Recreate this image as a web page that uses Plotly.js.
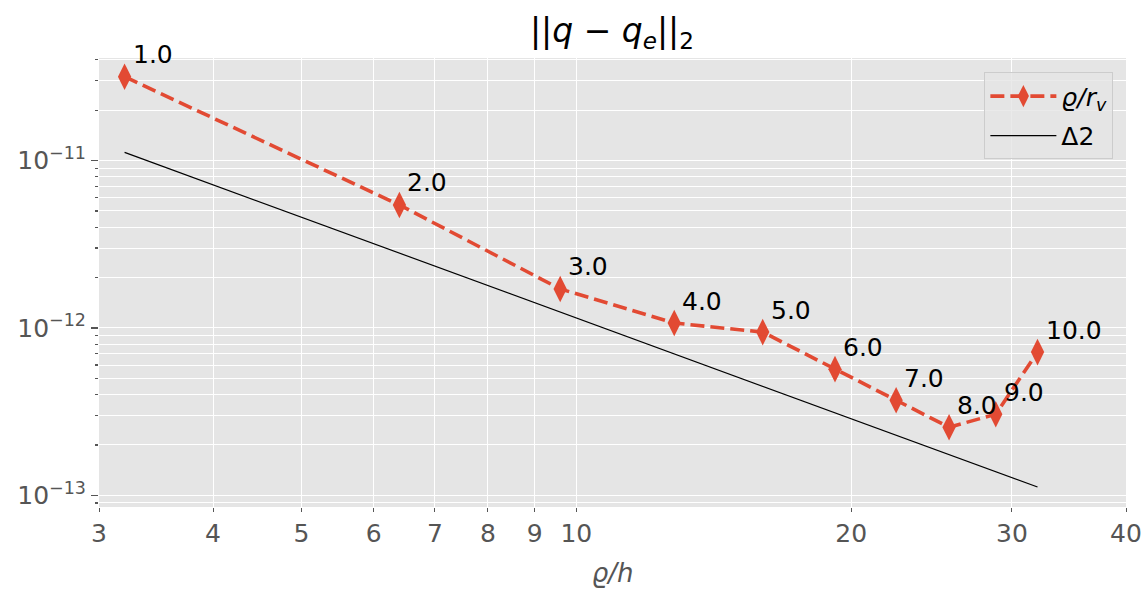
<!DOCTYPE html>
<html>
<head>
<meta charset="utf-8">
<script src="https://cdn.plot.ly/plotly-3.0.1.min.js"></script>
<style>html,body{margin:0;padding:0;background:#fff;}#chart{width:1147px;height:592px;}</style>
</head>
<body>
<div id="chart"></div>
<script>
// data
const rhoH = [3.2, 6.4, 9.6, 12.8, 16, 19.2, 22.4, 25.6, 28.8, 32];
const errNorm = [3.17e-11, 5.43e-12, 1.71e-12, 1.07e-12, 9.44e-13, 5.67e-13, 3.70e-13, 2.55e-13, 3.05e-13, 7.17e-13];
const pointLabels = ['1.0','2.0','3.0','4.0','5.0','6.0','7.0','8.0','9.0','10.0'];
const refX = [3.2, 32];
const refY = [1.12e-11, 1.12e-13];
const xTickVals = [3, 4, 5, 6, 7, 8, 9, 10, 20, 30, 40];
const xTickText = ['3', '4', '5', '6', '7', '8', '9', '10', '20', '30', '40'];
const yTickVals = [1e-13, 1e-12, 1e-11];
const yTickText = ['10<sup>−13</sup>', '10<sup>−12</sup>', '10<sup>−11</sup>'];

const yMinor = [];
[-14, -13, -12, -11].forEach(function (e) {
  for (let m = 2; m <= 9; m++) yMinor.push(m * Math.pow(10, e));
});

const font = 'DejaVu Sans, sans-serif';
const red = '#E24A33';

const traces = [
  {
    x: rhoH, y: errNorm, type: 'scatter', mode: 'lines+markers',
    name: '<i>ϱ/r<sub>v</sub></i>', legendgroup: 'a',
    line: {color: red, width: 3.6, dash: '14px,6px'},
    marker: {symbol: 'diamond-tall', size: 19, color: red}
  },
  {
    x: refX, y: refY, type: 'scatter', mode: 'lines',
    name: 'Δ2', legendgroup: 'b',
    line: {color: '#000', width: 1.2}
  }
];

const annotations = rhoH.map(function (xv, i) {
  return {
    x: Math.log10(xv), y: Math.log10(errNorm[i]), xref: 'x', yref: 'y',
    text: pointLabels[i], showarrow: false, xanchor: 'left', yanchor: 'middle',
    xshift: 6, yshift: 22, font: {family: font, size: 25, color: '#000'}
  };
});

const layout = {
  width: 1147, height: 592,
  margin: {l: 99, r: 21, t: 58, b: 85},
  paper_bgcolor: '#fff', plot_bgcolor: '#E5E5E5',
  font: {family: font, size: 25, color: '#555'},
  title: {
    text: '||<i>q</i> − <i>q<sub>e</sub></i>||<sub>2</sub>',
    font: {family: font, size: 33, color: '#000'},
    x: 0.5335, xanchor: 'center', y: 0.948, yanchor: 'middle'
  },
  xaxis: {
    type: 'log', range: [Math.log10(3), Math.log10(40)],
    tickmode: 'array', tickvals: xTickVals, ticktext: xTickText,
    ticks: 'outside', ticklen: 4, tickwidth: 1, tickcolor: '#555',
    showgrid: true, gridcolor: '#fff', gridwidth: 1,
    zeroline: false, showline: false,
    tickfont: {family: font, size: 25, color: '#555'},
    title: {text: '<i>ϱ/h</i>', font: {family: font, size: 26, color: '#555'}, standoff: 16}
  },
  yaxis: {
    type: 'log', range: [-13.070, -10.387],
    tickmode: 'array', tickvals: yTickVals, ticktext: yTickText,
    ticks: 'outside', ticklen: 7, tickwidth: 1.2, tickcolor: '#555',
    showgrid: true, gridcolor: '#fff', gridwidth: 1,
    zeroline: false, showline: false,
    tickfont: {family: font, size: 25, color: '#555'},
    minor: {tickmode: 'array', tickvals: yMinor, ticks: 'outside', ticklen: 3.5, tickcolor: '#555', showgrid: true, gridcolor: '#fff', gridwidth: 1}
  },
  legend: {
    x: 0.9877, y: 0.968, xanchor: 'right', yanchor: 'top',
    bgcolor: 'rgba(229,229,229,0.8)', bordercolor: '#ccc', borderwidth: 1,
    font: {family: font, size: 25, color: '#000'}, itemwidth: 66,
    tracegroupgap: 4
  },
  annotations: annotations,
  showlegend: true
};

Plotly.newPlot('chart', traces, layout, {displayModeBar: false, staticPlot: true});
</script>
</body>
</html>
